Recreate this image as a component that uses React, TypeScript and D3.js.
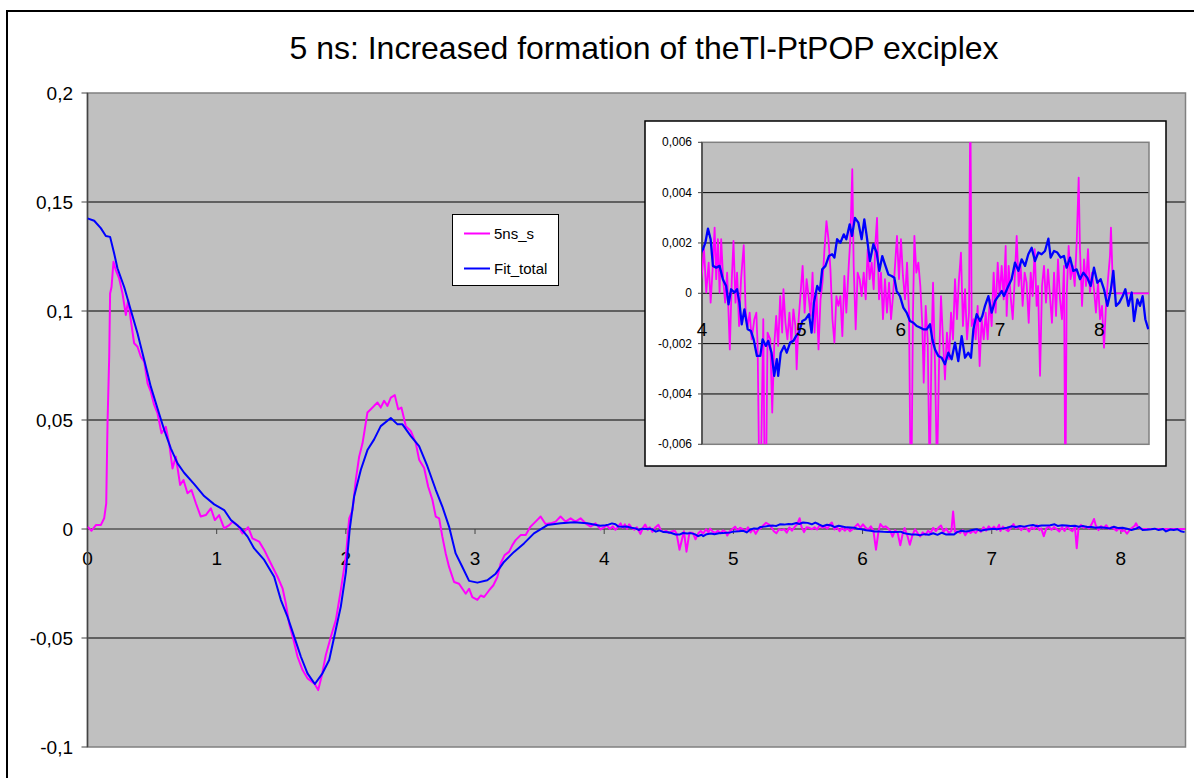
import * as d3 from "d3";
import { useEffect, useRef } from "react";

type Pt = [number, number];

const FONT = "'Liberation Sans', Arial, sans-serif";

const titleText = "5 ns: Increased formation of theTl-PtPOP exciplex";
const seriesNames = ["5ns_s", "Fit_total"];
const seriesColors = ["#FF00FF", "#0000FF"];

const xTicksMain = [0, 1, 2, 3, 4, 5, 6, 7, 8];
const yTicksMain = [-0.1, -0.05, 0, 0.05, 0.1, 0.15, 0.2];
const xTicksInset = [4, 5, 6, 7, 8];
const yTicksInset = [-0.006, -0.004, -0.002, 0, 0.002, 0.004, 0.006];

// 5ns_s, 0 - 4 ns
const sampleEarly: Pt[] = [
  [0, 0.001], [0.031, -0.0008], [0.065, 0.0018], [0.103, 0.0018], [0.129, 0.0049],
  [0.145, 0.0118], [0.155, 0.0485], [0.168, 0.079], [0.175, 0.108], [0.186, 0.111],
  [0.201, 0.1226], [0.219, 0.1188], [0.245, 0.115], [0.271, 0.108], [0.297, 0.0982],
  [0.315, 0.105], [0.335, 0.0959], [0.361, 0.0852], [0.387, 0.0836], [0.413, 0.079],
  [0.439, 0.0768], [0.465, 0.0668], [0.49, 0.063], [0.516, 0.0569], [0.542, 0.0531],
  [0.573, 0.0439], [0.606, 0.0469], [0.632, 0.0393], [0.658, 0.0278], [0.684, 0.0332],
  [0.717, 0.0202], [0.743, 0.0225], [0.774, 0.0164], [0.805, 0.0179], [0.839, 0.0118],
  [0.877, 0.0057], [0.916, 0.0064], [0.955, 0.0095], [0.986, 0.0041], [1.019, 0.0064],
  [1.058, 0.0003], [1.097, 0.0018], [1.123, 0.0034], [1.161, 0.0018], [1.2, -0.002],
  [1.244, 0.0008], [1.277, -0.0043], [1.329, -0.0058], [1.368, -0.0096], [1.406, -0.0142],
  [1.432, -0.0173], [1.471, -0.0219], [1.51, -0.0272], [1.535, -0.0341], [1.561, -0.0433],
  [1.595, -0.0509], [1.626, -0.0586], [1.665, -0.0647], [1.703, -0.0685], [1.755, -0.0708],
  [1.786, -0.0739], [1.812, -0.0677], [1.845, -0.0578], [1.884, -0.0494], [1.923, -0.0417],
  [1.961, -0.028], [2.0, -0.0127], [2.026, 0.0049], [2.052, 0.0087], [2.077, 0.0225],
  [2.103, 0.0332], [2.129, 0.0393], [2.167, 0.0534], [2.193, 0.0549], [2.219, 0.0565],
  [2.245, 0.058], [2.27, 0.0557], [2.296, 0.0588], [2.322, 0.0565], [2.348, 0.0603],
  [2.379, 0.0614], [2.405, 0.0549], [2.43, 0.0557], [2.464, 0.0472], [2.503, 0.0449],
  [2.541, 0.0395], [2.567, 0.0318], [2.606, 0.028], [2.637, 0.0195], [2.67, 0.0134],
  [2.696, 0.0057], [2.722, 0.0049], [2.747, -0.0035], [2.773, -0.0112], [2.799, -0.0174],
  [2.838, -0.0243], [2.876, -0.0251], [2.902, -0.0274], [2.928, -0.0297], [2.954, -0.0274],
  [2.979, -0.0312], [3.018, -0.0325], [3.044, -0.0305], [3.07, -0.0312], [3.108, -0.0282],
  [3.142, -0.0258], [3.173, -0.022], [3.198, -0.0158], [3.229, -0.012], [3.263, -0.0105],
  [3.289, -0.0074], [3.314, -0.0051], [3.353, -0.0028], [3.392, -0.0028], [3.43, 0.0011],
  [3.469, 0.0034], [3.508, 0.0057], [3.546, 0.0023], [3.585, 0.0026], [3.624, 0.0034],
  [3.662, 0.0057], [3.701, 0.0034], [3.74, 0.0049], [3.778, 0.0034], [3.817, 0.0049],
  [3.856, 0.0026], [3.894, 0.0011], [3.933, 0.0026], [3.972, -0.0002],
];

// 5ns_s, 4 - 8.5 ns, y in units of 0.001
const sampleLateMilli: Pt[] = [
  [4.0, 0.82], [4.02, 1.75], [4.043, 0.03], [4.067, 1.22], [4.087, -0.37], [4.107, 0.95],
  [4.127, 2.61], [4.143, 0.56], [4.16, 2.15], [4.177, 0.03], [4.193, 2.15], [4.213, 0.56],
  [4.233, -0.37], [4.253, 0.82], [4.28, -2.23], [4.3, 0.56], [4.317, 2.08], [4.337, -0.37],
  [4.353, 0.82], [4.373, -1.3], [4.393, 0.56], [4.42, 1.91], [4.44, -0.77], [4.46, -1.3],
  [4.48, -0.77], [4.5, -1.83], [4.527, -1.03], [4.547, -0.77], [4.56, -2.09], [4.583, -9.5],
  [4.617, -1.03], [4.637, -10.4], [4.66, -1.56], [4.687, -1.83], [4.707, -4.74], [4.727, -2.09],
  [4.747, -0.9], [4.767, -2.09], [4.787, -0.11], [4.807, -1.56], [4.82, 0.16], [4.84, -1.17],
  [4.86, -1.83], [4.88, -0.77], [4.9, -1.96], [4.92, -0.64], [4.94, -1.3], [4.953, -3.02],
  [4.973, -1.03], [4.993, 0.03], [5.013, 1.09], [5.033, -0.77], [5.053, 0.56], [5.073, -0.11],
  [5.093, -0.9], [5.113, 0.82], [5.133, -1.56], [5.153, 0.03], [5.173, -2.23], [5.193, -0.24],
  [5.213, 0.42], [5.233, 1.75], [5.253, 2.87], [5.273, 2.15], [5.293, 0.95], [5.313, -1.03],
  [5.333, -1.96], [5.353, -0.11], [5.373, -0.5], [5.393, -0.11], [5.413, -1.7], [5.433, 0.69],
  [5.453, -0.77], [5.477, 1.09], [5.493, 2.15], [5.513, 4.93], [5.527, 1.09], [5.547, -1.43],
  [5.567, 0.82], [5.587, 0.56], [5.607, -0.11], [5.628, 0.82], [5.648, -0.24], [5.668, 1.75],
  [5.688, 0.56], [5.708, 1.22], [5.728, 0.16], [5.748, 2.15], [5.762, 3.0], [5.782, -0.24],
  [5.802, 0.82], [5.822, -1.03], [5.842, 0.56], [5.862, -0.77], [5.883, 0.42], [5.903, -1.03],
  [5.923, -0.11], [5.943, 1.09], [5.963, 2.28], [5.983, 0.56], [6.003, 2.15], [6.023, 0.69],
  [6.044, -0.24], [6.064, 1.22], [6.084, -0.77], [6.104, -9.5], [6.124, -0.77], [6.138, 2.28],
  [6.158, 0.82], [6.178, 1.22], [6.198, 0.29], [6.218, -1.3], [6.232, -3.55], [6.252, -0.5],
  [6.272, -1.83], [6.292, -7.5], [6.312, -1.83], [6.326, 0.42], [6.346, -2.89], [6.366, -7.2],
  [6.386, -2.89], [6.406, -0.11], [6.426, -1.83], [6.446, -3.42], [6.466, -1.56], [6.487, -2.62],
  [6.507, -0.77], [6.527, -1.83], [6.547, 0.56], [6.567, -1.03], [6.587, 0.56], [6.607, 1.62],
  [6.627, -1.3], [6.648, 0.16], [6.668, -1.83], [6.688, -0.77], [6.701, 8.0], [6.715, -1.3],
  [6.735, -1.03], [6.755, -1.83], [6.775, -0.5], [6.795, -2.89], [6.815, -1.03], [6.836, -1.83],
  [6.856, -0.77], [6.876, -1.83], [6.896, -0.24], [6.916, -1.3], [6.936, 0.82], [6.956, -0.77],
  [6.977, 1.22], [6.997, -0.11], [7.017, 1.09], [7.037, -0.24], [7.057, 1.88], [7.067, -0.9],
  [7.087, 1.09], [7.107, -0.11], [7.128, -1.03], [7.148, 0.56], [7.168, 2.28], [7.188, 0.29],
  [7.208, 1.09], [7.228, -0.5], [7.248, 0.82], [7.268, 0.42], [7.289, -1.17], [7.309, 0.82],
  [7.329, -0.11], [7.349, 1.75], [7.369, -0.5], [7.383, 0.29], [7.403, -3.28], [7.423, 0.29],
  [7.443, 1.09], [7.463, -0.37], [7.483, 0.95], [7.503, -0.11], [7.523, -1.17], [7.544, 0.82],
  [7.564, -0.9], [7.584, 1.35], [7.604, -0.24], [7.624, -1.03], [7.644, 1.09], [7.658, -8.8],
  [7.671, -0.11], [7.691, 1.88], [7.711, 0.56], [7.732, 1.09], [7.752, 0.29], [7.772, 2.01],
  [7.792, 4.6], [7.805, 1.75], [7.826, -0.5], [7.846, 1.35], [7.866, 0.29], [7.886, 1.75],
  [7.906, 0.03], [7.926, 0.82], [7.946, 0.16], [7.966, -0.77], [7.987, 0.42], [8.007, -1.03],
  [8.027, -0.5], [8.047, -2.16], [8.067, -0.5], [8.087, 0.56], [8.107, 1.48], [8.117, 2.61],
  [8.134, 0.56], [8.154, 0], [8.5, 0],
];

// Fit_total, 0 - 4 ns
const fitEarly: Pt[] = [
  [0, 0.1425], [0.052, 0.1414], [0.103, 0.138], [0.142, 0.1344], [0.175, 0.134],
  [0.206, 0.1265], [0.232, 0.1196], [0.284, 0.111], [0.335, 0.1005], [0.387, 0.0898],
  [0.439, 0.0775], [0.49, 0.0653], [0.542, 0.0553], [0.594, 0.0454], [0.645, 0.037],
  [0.697, 0.0301], [0.748, 0.0258], [0.826, 0.0206], [0.903, 0.0151], [0.981, 0.0113],
  [1.058, 0.0087], [1.11, 0.0041], [1.187, 0.0003], [1.239, -0.0035], [1.29, -0.0089],
  [1.368, -0.0142], [1.445, -0.0219], [1.497, -0.0326], [1.548, -0.0402], [1.6, -0.0494],
  [1.652, -0.0586], [1.703, -0.0662], [1.76, -0.0711], [1.819, -0.0662], [1.871, -0.0601],
  [1.91, -0.0494], [1.961, -0.0356], [2.0, -0.02], [2.03, 0.0], [2.064, 0.0149],
  [2.116, 0.0272], [2.167, 0.0362], [2.219, 0.0411], [2.27, 0.0472], [2.348, 0.0509],
  [2.4, 0.048], [2.438, 0.048], [2.503, 0.0426], [2.567, 0.038], [2.631, 0.0288],
  [2.696, 0.018], [2.747, 0.0103], [2.799, 0.0011], [2.85, -0.0112], [2.902, -0.0174],
  [2.954, -0.0238], [3.018, -0.0246], [3.095, -0.0235], [3.16, -0.0205], [3.224, -0.0151],
  [3.302, -0.0105], [3.379, -0.0066], [3.456, -0.002], [3.56, 0.0018], [3.663, 0.0026],
  [3.765, 0.0031], [3.869, 0.0026], [3.97, 0.0015],
];

// Fit_total, 4 - 8.5 ns, y in units of 0.001
const fitLateMilli: Pt[] = [
  [4.01, 1.75], [4.033, 2.0], [4.06, 2.57], [4.087, 2.15], [4.11, 1.09], [4.143, 1.02],
  [4.177, 1.09], [4.21, 0.56], [4.243, 0.29], [4.267, -0.44], [4.293, 0.16], [4.327, 0.03],
  [4.353, 0.16], [4.377, -0.37], [4.4, -1.23], [4.427, -0.64], [4.46, -1.43], [4.493, -1.5],
  [4.52, -1.83], [4.553, -2.49], [4.587, -2.49], [4.61, -1.83], [4.643, -2.09], [4.667, -1.89],
  [4.7, -2.36], [4.727, -3.28], [4.753, -2.62], [4.767, -3.28], [4.793, -2.36], [4.827, -2.09],
  [4.853, -2.36], [4.887, -1.96], [4.92, -1.89], [4.947, -1.7], [4.977, -1.56], [5.01, -1.1],
  [5.043, -1.03], [5.077, -0.83], [5.103, -1.56], [5.127, -0.37], [5.16, 0.29], [5.187, 0.09],
  [5.21, 0.95], [5.243, 1.09], [5.277, 1.48], [5.31, 1.55], [5.333, 1.42], [5.36, 2.15],
  [5.393, 2.01], [5.427, 2.34], [5.453, 2.15], [5.487, 2.74], [5.51, 2.28], [5.54, 3.0],
  [5.574, 2.81], [5.607, 2.15], [5.634, 2.94], [5.658, 2.28], [5.691, 1.28], [5.725, 1.95],
  [5.758, 1.62], [5.785, 0.89], [5.815, 1.48], [5.842, 1.15], [5.876, 0.75], [5.909, 0.69],
  [5.936, 0.62], [5.96, 0.09], [5.993, -0.11], [6.027, -0.57], [6.06, -0.77], [6.094, -1.1],
  [6.128, -1.17], [6.161, -1.3], [6.195, -1.36], [6.228, -1.43], [6.262, -1.43], [6.295, -1.23],
  [6.319, -1.83], [6.346, -2.23], [6.379, -2.49], [6.413, -2.56], [6.446, -2.82], [6.48, -2.36],
  [6.513, -2.62], [6.547, -1.96], [6.58, -2.69], [6.614, -1.7], [6.648, -2.56], [6.681, -2.36],
  [6.708, -2.56], [6.732, -1.43], [6.765, -0.83], [6.799, -1.1], [6.822, -0.9], [6.849, -0.5],
  [6.883, -0.11], [6.916, -0.77], [6.95, -0.3], [6.983, -0.11], [7.017, 0.09], [7.04, -0.11],
  [7.084, 0.29], [7.117, 0.56], [7.151, 1.22], [7.185, 0.89], [7.218, 1.35], [7.252, 1.09],
  [7.285, 1.55], [7.319, 1.81], [7.352, 1.28], [7.386, 1.62], [7.419, 1.55], [7.453, 1.68],
  [7.487, 2.17], [7.51, 1.42], [7.544, 1.68], [7.577, 1.62], [7.611, 1.42], [7.644, 1.48],
  [7.671, 1.02], [7.705, 1.42], [7.738, 0.89], [7.772, 0.95], [7.805, 0.56], [7.839, 0.82],
  [7.879, 0.62], [7.913, 0.29], [7.946, 1.02], [7.98, 0.42], [8.013, 0.56], [8.047, 0.16],
  [8.081, -0.5], [8.114, 0.09], [8.141, 0.89], [8.168, -0.5], [8.201, -0.37], [8.235, -0.11],
  [8.262, 0.16], [8.292, -0.5], [8.326, 0.03], [8.349, -1.1], [8.383, -0.24], [8.409, -0.5],
  [8.436, -0.11], [8.463, -1.03], [8.493, -1.43],
];

const fromMilli = (pts: Pt[]): Pt[] => pts.map(([t, v]) => [t, v / 1000]);
const comma = (v: number) => String(v).replace(".", ",");

const App = () => {
  const svgRef = useRef<SVGSVGElement>(null);

  useEffect(() => {
    const sample = [...sampleEarly, ...fromMilli(sampleLateMilli)];
    const fit = [...fitEarly, ...fromMilli(fitLateMilli)];
    const series = [sample, fit];

    const svg = d3.select(svgRef.current);
    svg.selectAll("*").remove();

    svg.append("rect").attr("width", 1194).attr("height", 778).attr("fill", "#fff");
    svg
      .append("rect")
      .attr("x", 7)
      .attr("y", 11)
      .attr("width", 1250)
      .attr("height", 850)
      .attr("fill", "none")
      .attr("stroke", "#000")
      .attr("stroke-width", 2);

    svg
      .append("text")
      .attr("x", 644)
      .attr("y", 59)
      .attr("text-anchor", "middle")
      .attr("font-family", FONT)
      .attr("font-size", 32)
      .attr("fill", "#000")
      .text(titleText);

    const defs = svg.append("defs");

    // === main chart ===
    const x = d3.scaleLinear().domain([0, 8.5]).range([87.5, 1185.5]);
    const y = d3.scaleLinear().domain([-0.1, 0.2]).range([747, 93]);
    const [x0, x1] = x.range();
    const [yb, yt] = y.range();

    defs
      .append("clipPath")
      .attr("id", "clip-main")
      .append("rect")
      .attr("x", x0)
      .attr("y", yt)
      .attr("width", x1 - x0)
      .attr("height", yb - yt);

    const main = svg.append("g");
    main
      .append("rect")
      .attr("x", x0)
      .attr("y", yt)
      .attr("width", x1 - x0)
      .attr("height", yb - yt)
      .attr("fill", "#C0C0C0");

    yTicksMain
      .filter((v) => v !== 0 && v !== 0.2 && v !== -0.1)
      .forEach((v) => {
        main
          .append("line")
          .attr("x1", x0)
          .attr("x2", x1)
          .attr("y1", y(v))
          .attr("y2", y(v))
          .attr("stroke", "#000")
          .attr("stroke-width", 1);
      });

    main
      .append("rect")
      .attr("x", x0)
      .attr("y", yt)
      .attr("width", x1 - x0)
      .attr("height", yb - yt)
      .attr("fill", "none")
      .attr("stroke", "#808080")
      .attr("stroke-width", 1.5);

    // zero axis with ticks
    main
      .append("line")
      .attr("x1", x0)
      .attr("x2", x1)
      .attr("y1", y(0))
      .attr("y2", y(0))
      .attr("stroke", "#555")
      .attr("stroke-width", 1.5);
    xTicksMain.forEach((v) => {
      main
        .append("line")
        .attr("x1", x(v))
        .attr("x2", x(v))
        .attr("y1", y(0))
        .attr("y2", y(0) + 5)
        .attr("stroke", "#444")
        .attr("stroke-width", 1);
      main
        .append("text")
        .attr("x", x(v))
        .attr("y", y(0) + 36)
        .attr("text-anchor", "middle")
        .attr("font-family", FONT)
        .attr("font-size", 19)
        .attr("fill", "#000")
        .text(comma(v));
    });

    // left axis
    main
      .append("line")
      .attr("x1", x0)
      .attr("x2", x0)
      .attr("y1", yt)
      .attr("y2", yb)
      .attr("stroke", "#444")
      .attr("stroke-width", 1.5);
    yTicksMain.forEach((v) => {
      main
        .append("line")
        .attr("x1", x0 - 6)
        .attr("x2", x0)
        .attr("y1", y(v))
        .attr("y2", y(v))
        .attr("stroke", "#444")
        .attr("stroke-width", 1);
      main
        .append("text")
        .attr("x", 73)
        .attr("y", y(v) + 7)
        .attr("text-anchor", "end")
        .attr("font-family", FONT)
        .attr("font-size", 19)
        .attr("fill", "#000")
        .text(comma(v));
    });

    const lineMain = d3
      .line<Pt>()
      .x((d) => x(d[0]))
      .y((d) => y(d[1]));
    const mainLines = main.append("g").attr("clip-path", "url(#clip-main)");
    series.forEach((s, i) => {
      mainLines
        .append("path")
        .datum(s)
        .attr("fill", "none")
        .attr("stroke", seriesColors[i])
        .attr("stroke-width", 2)
        .attr("stroke-linejoin", "round")
        .attr("d", lineMain);
    });

    // === legend ===
    const legend = svg.append("g");
    legend
      .append("rect")
      .attr("x", 452.5)
      .attr("y", 214.5)
      .attr("width", 106)
      .attr("height", 71)
      .attr("fill", "#fff")
      .attr("stroke", "#000")
      .attr("stroke-width", 1);
    seriesNames.forEach((name, i) => {
      const ly = 233.5 + i * 35;
      legend
        .append("line")
        .attr("x1", 464)
        .attr("x2", 490)
        .attr("y1", ly)
        .attr("y2", ly)
        .attr("stroke", seriesColors[i])
        .attr("stroke-width", 2);
      legend
        .append("text")
        .attr("x", 494)
        .attr("y", ly + 5.5)
        .attr("font-family", FONT)
        .attr("font-size", 15)
        .attr("fill", "#000")
        .text(name);
    });

    // === inset ===
    const ix = d3.scaleLinear().domain([4, 8.5]).range([702, 1149]);
    const iy = d3.scaleLinear().domain([-0.006, 0.006]).range([444.3, 142.3]);
    const [ix0, ix1] = ix.range();
    const [iyb, iyt] = iy.range();

    const inset = svg.append("g");
    inset
      .append("rect")
      .attr("x", 645)
      .attr("y", 121)
      .attr("width", 521)
      .attr("height", 345)
      .attr("fill", "#fff")
      .attr("stroke", "#000")
      .attr("stroke-width", 1.5);

    defs
      .append("clipPath")
      .attr("id", "clip-inset")
      .append("rect")
      .attr("x", ix0)
      .attr("y", iyt)
      .attr("width", ix1 - ix0)
      .attr("height", iyb - iyt);

    inset
      .append("rect")
      .attr("x", ix0)
      .attr("y", iyt)
      .attr("width", ix1 - ix0)
      .attr("height", iyb - iyt)
      .attr("fill", "#C0C0C0");

    yTicksInset
      .filter((v) => v !== 0.006 && v !== -0.006)
      .forEach((v) => {
        inset
          .append("line")
          .attr("x1", ix0)
          .attr("x2", ix1)
          .attr("y1", iy(v))
          .attr("y2", iy(v))
          .attr("stroke", "#000")
          .attr("stroke-width", 1);
      });

    inset
      .append("rect")
      .attr("x", ix0)
      .attr("y", iyt)
      .attr("width", ix1 - ix0)
      .attr("height", iyb - iyt)
      .attr("fill", "none")
      .attr("stroke", "#808080")
      .attr("stroke-width", 1.5);
    inset
      .append("line")
      .attr("x1", ix0)
      .attr("x2", ix0)
      .attr("y1", iyt)
      .attr("y2", iyb)
      .attr("stroke", "#444")
      .attr("stroke-width", 1.5);

    yTicksInset.forEach((v) => {
      inset
        .append("line")
        .attr("x1", ix0 - 4)
        .attr("x2", ix0)
        .attr("y1", iy(v))
        .attr("y2", iy(v))
        .attr("stroke", "#444")
        .attr("stroke-width", 1);
      inset
        .append("text")
        .attr("x", 692)
        .attr("y", iy(v) + 4)
        .attr("text-anchor", "end")
        .attr("font-family", FONT)
        .attr("font-size", 12)
        .attr("fill", "#000")
        .text(comma(v));
    });

    const lineInset = d3
      .line<Pt>()
      .x((d) => ix(d[0]))
      .y((d) => iy(d[1]));
    const insetLines = inset.append("g").attr("clip-path", "url(#clip-inset)");
    series.forEach((s, i) => {
      insetLines
        .append("path")
        .datum(s.filter((d) => d[0] >= 3.9))
        .attr("fill", "none")
        .attr("stroke", seriesColors[i])
        .attr("stroke-width", i === 0 ? 1.8 : 2.3)
        .attr("stroke-linejoin", "round")
        .attr("d", lineInset);
    });

    xTicksInset.forEach((v) => {
      inset
        .append("text")
        .attr("x", ix(v))
        .attr("y", iy(0) + 43)
        .attr("text-anchor", "middle")
        .attr("font-family", FONT)
        .attr("font-size", 19)
        .attr("fill", "#000")
        .text(comma(v));
    });
  }, []);

  return (
    <svg
      ref={svgRef}
      width={1194}
      height={778}
      style={{ position: "absolute", left: 0, top: 0 }}
    />
  );
};

export default App;
